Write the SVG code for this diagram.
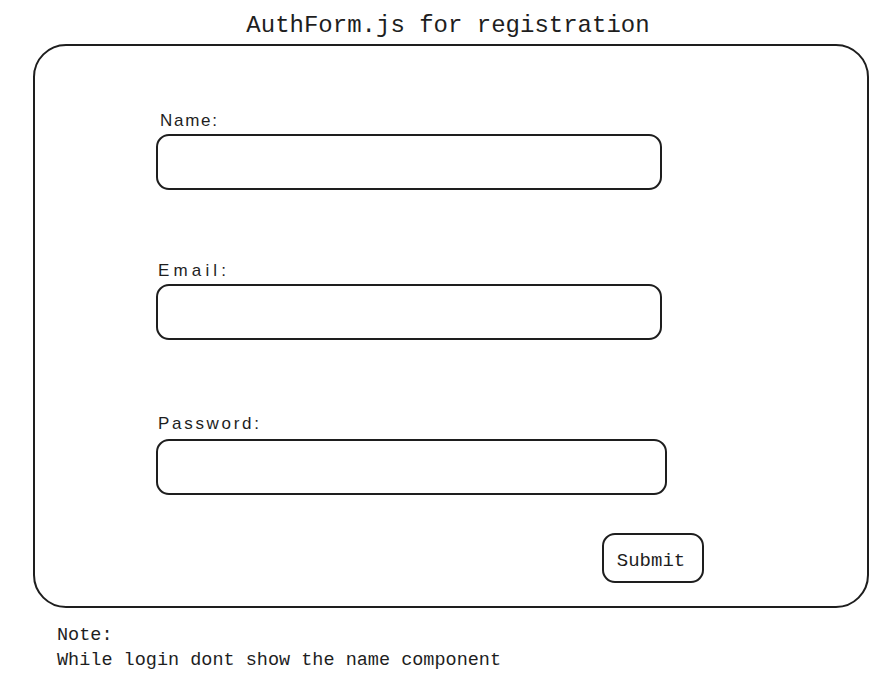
<svg xmlns="http://www.w3.org/2000/svg" width="889" height="694" viewBox="0 0 889 694">
<style>
.box{fill:none;stroke:#1e1e1e;stroke-width:2;stroke-linejoin:round}
.mono{font-family:"Liberation Mono","DejaVu Sans Mono",monospace;fill:#1e1e1e}
.hand{font-family:"Liberation Sans","DejaVu Sans",sans-serif;fill:#1e1e1e;font-size:17px}
</style>
<rect width="889" height="694" fill="#ffffff"/>
<text class="mono" x="448" y="32" font-size="24" text-anchor="middle">AuthForm.js for registration</text>
<g id="form">
<rect class="box" x="34" y="45" width="834" height="562" rx="32" ry="32"/>
</g>
<g id="name-field">
<text class="hand" x="160" y="126" textLength="57" lengthAdjust="spacing">Name:</text>
<rect class="box" x="157" y="135" width="504" height="54" rx="12" ry="12" stroke-width="2.5"/>
</g>
<g id="email-field">
<text class="hand" x="158" y="276" textLength="68" lengthAdjust="spacing">Email:</text>
<rect class="box" x="157" y="285" width="504" height="54" rx="12" ry="12" stroke-width="2.5"/>
</g>
<g id="password-field">
<text class="hand" x="158" y="429" textLength="101" lengthAdjust="spacing">Password:</text>
<rect class="box" x="157" y="440" width="509" height="54" rx="12" ry="12" stroke-width="2.5"/>
</g>
<g id="submit">
<rect class="box" x="603" y="534" width="100" height="48" rx="12" ry="12"/>
<text class="mono" x="651" y="566" font-size="19" text-anchor="middle">Submit</text>
</g>
<g id="note">
<text class="mono" x="57" y="640" font-size="18.5">Note:</text>
<text class="mono" x="57" y="665" font-size="18.5">While login dont show the name component</text>
</g>
<g id="connectors"></g>
</svg>
